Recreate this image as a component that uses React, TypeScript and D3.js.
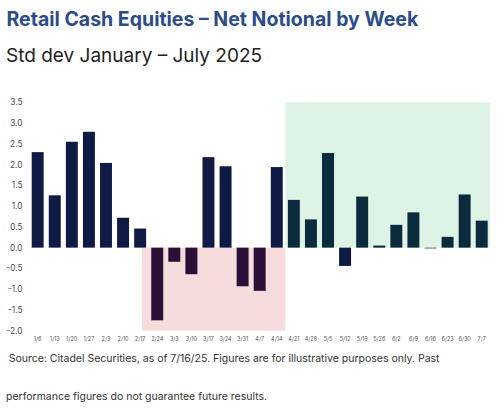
import { useEffect, useRef } from 'react';
import * as d3 from 'd3';

const weeks = [
  '1/6', '1/13', '1/20', '1/27', '2/3', '2/10', '2/17', '2/24', '3/3',
  '3/10', '3/17', '3/24', '3/31', '4/7', '4/14', '4/21', '4/28', '5/5',
  '5/12', '5/19', '5/26', '6/2', '6/9', '6/16', '6/23', '6/30', '7/7',
];
const stdDev = [
  2.3, 1.26, 2.55, 2.79, 2.04, 0.72, 0.46, -1.75, -0.34,
  -0.64, 2.18, 1.96, -0.93, -1.04, 1.94, 1.15, 0.68, 2.28,
  -0.44, 1.23, 0.05, 0.55, 0.85, -0.02, 0.26, 1.28, 0.65,
];
const yTicks = [-2, -1.5, -1, -0.5, 0, 0.5, 1, 1.5, 2, 2.5, 3, 3.5];
// shaded periods, in week positions (start, end)
const sellOffSpan = [6.1, 14.5];
const rallySpan = [14.5, 26.5];

const title = 'Retail Cash Equities \u2013 Net Notional by Week';
const subtitle = 'Std dev January \u2013 July 2025';
const sourceLines = [
  'Source: Citadel Securities, as of 7/16/25. Figures are for illustrative purposes only. Past',
  'performance figures do not guarantee future results.',
];

const W = 504;
const H = 410;

export default function App() {
  const svgRef = useRef<SVGSVGElement>(null);

  useEffect(() => {
    if (!svgRef.current) return;
    const svg = d3.select(svgRef.current);
    svg.selectAll('*').remove();

    const x = d3.scaleBand<string>().domain(weeks).range([31.7, 487.7]).paddingInner(0.3).paddingOuter(0);
    const y = d3.scaleLinear().domain([-2, 3.5]).range([330.7, 102.3]);
    const step = x.step();
    const center = (i: number) => (x(weeks[0]) as number) + x.bandwidth() / 2 + i * step;

    // Background shading
    svg.append('rect')
      .attr('x', center(sellOffSpan[0]))
      .attr('width', center(sellOffSpan[1]) - center(sellOffSpan[0]))
      .attr('y', y(0))
      .attr('height', y(-2) - y(0))
      .attr('fill', '#f6dcdc');

    svg.append('rect')
      .attr('x', center(rallySpan[0]))
      .attr('width', center(rallySpan[1]) - center(rallySpan[0]))
      .attr('y', y(3.5))
      .attr('height', y(0) - y(3.5))
      .attr('fill', '#dcf3e6');

    // Bars (tinted by the shading behind them)
    const barColor = (d: number, i: number) => {
      if (d < 0 && i >= sellOffSpan[0] && i <= sellOffSpan[1]) return '#2a0f36';
      if (d > 0 && i >= rallySpan[0] && i <= rallySpan[1]) return '#0b2a3c';
      return '#0f1a45';
    };

    svg.append('g')
      .selectAll('rect')
      .data(stdDev)
      .join('rect')
      .attr('x', (_, i) => x(weeks[i]) as number)
      .attr('width', x.bandwidth())
      .attr('y', (d) => y(Math.max(0, d)))
      .attr('height', (d) => Math.max(0.8, Math.abs(y(d) - y(0))))
      .attr('fill', (d, i) => (Math.abs(d) < 0.03 ? '#4a5560' : barColor(d, i)));

    // Y tick labels
    svg.append('g')
      .selectAll('text')
      .data(yTicks)
      .join('text')
      .attr('x', 22.5)
      .attr('y', (d) => y(d) + 3)
      .attr('text-anchor', 'end')
      .attr('font-family', 'Inter, sans-serif')
      .attr('font-size', 8.3)
      .attr('fill', '#4a4a4a')
      .text((d) => d3.format('.1f')(d).replace('\u2212', '-'));

    // X tick labels
    svg.append('g')
      .selectAll('text')
      .data(weeks)
      .join('text')
      .attr('x', (d) => (x(d) as number) + x.bandwidth() / 2)
      .attr('y', 341)
      .attr('text-anchor', 'middle')
      .attr('font-family', 'Inter, sans-serif')
      .attr('font-size', 5.5)
      .attr('fill', '#555')
      .text((d) => d);

    // Titles
    svg.append('text')
      .attr('x', 6.5)
      .attr('y', 26)
      .attr('font-family', 'Inter, sans-serif')
      .attr('font-size', 19.5)
      .attr('font-weight', 700)
      .attr('fill', '#2b4c8b')
      .text(title);

    svg.append('text')
      .attr('x', 6)
      .attr('y', 62)
      .attr('font-family', 'Inter, sans-serif')
      .attr('font-size', 19)
      .attr('fill', '#222')
      .text(subtitle);

    // Source note
    svg.append('text')
      .attr('x', 8.7)
      .attr('y', 362)
      .attr('font-family', 'Inter, sans-serif')
      .attr('font-size', 10.5)
      .attr('fill', '#333')
      .text(sourceLines[0]);

    svg.append('text')
      .attr('x', 6)
      .attr('y', 400)
      .attr('font-family', 'Inter, sans-serif')
      .attr('font-size', 10.5)
      .attr('fill', '#333')
      .text(sourceLines[1]);
  }, []);

  return (
    <svg
      ref={svgRef}
      width={W}
      height={H}
      style={{ position: 'absolute', left: 0, top: 0, background: '#fff' }}
    />
  );
}
